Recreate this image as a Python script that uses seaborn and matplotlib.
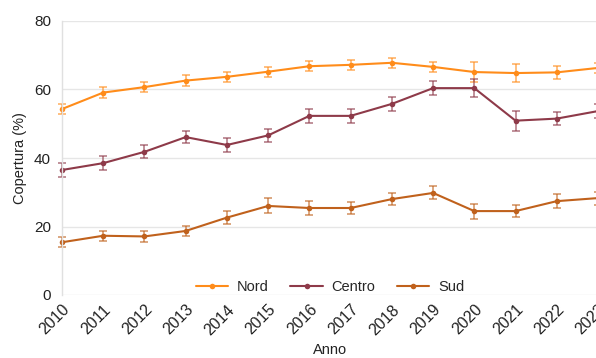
import matplotlib
matplotlib.use("Agg")
import matplotlib.pyplot as plt
import seaborn as sns
import pandas as pd

# Coverage by macro-area, 2010-2023
years = list(range(2010, 2024))
nord = [54.3, 59.1, 60.7, 62.6, 63.7, 65.2, 66.8, 67.2, 67.8, 66.6, 65.1, 64.8, 65.0, 66.3]
centro = [36.5, 38.5, 41.8, 46.1, 43.8, 46.6, 52.3, 52.3, 55.8, 60.4, 60.4, 50.9, 51.5, 53.7]
sud = [15.4, 17.3, 17.1, 18.7, 22.6, 26.0, 25.4, 25.4, 28.0, 29.8, 24.5, 24.5, 27.4, 28.3]

# Half-width of the uncertainty interval for each point
nord_err = [1.5, 1.5, 1.5, 1.5, 1.5, 1.5, 1.5, 1.5, 1.5, 1.5, 2.8, 2.5, 1.9, 1.5]
centro_err = [2.0, 2.0, 1.9, 1.85, 1.95, 1.85, 2.0, 2.0, 2.0, 2.1, 2.7, 2.9, 1.8, 2.0]
sud_err = [1.5, 1.5, 1.5, 1.5, 1.9, 2.2, 1.95, 1.8, 1.7, 1.9, 2.2, 1.8, 2.1, 1.9]

areas = ["Nord", "Centro", "Sud"]
colors = {"Nord": "#ff8c1a", "Centro": "#8e3a49", "Sud": "#c0611c"}

df = pd.DataFrame({
    "Anno": years * 3,
    "Copertura": nord + centro + sud,
    "err": nord_err + centro_err + sud_err,
    "Area": sum([[a] * len(years) for a in areas], []),
})

sns.set_theme(style="whitegrid")
plt.rcParams["font.family"] = ["Liberation Sans", "DejaVu Sans"]

fig = plt.figure(figsize=(5.96, 3.58), dpi=100)
ax = fig.add_axes([62 / 596, 1 - 295 / 358, 536 / 596, (295 - 21) / 358])

sns.lineplot(data=df, x="Anno", y="Copertura", hue="Area", hue_order=areas,
             palette=colors, marker="o", markersize=4, markeredgewidth=0,
             linewidth=1.5, ax=ax, clip_on=False)

for a in areas:
    sub = df[df["Area"] == a]
    ax.errorbar(sub["Anno"], sub["Copertura"], yerr=sub["err"], fmt="none",
                ecolor=colors[a], elinewidth=1.3, capsize=3, capthick=1.3,
                alpha=0.6, clip_on=False)

ax.set_xlim(2010, 2023)
ax.set_ylim(0, 80)
ax.set_yticks([0, 20, 40, 60, 80])
ax.set_xticks(years)
ax.set_xticklabels([str(y) for y in years], rotation=45, ha="right",
                   rotation_mode="anchor")
ax.tick_params(axis="y", labelsize=11, colors="#222222", length=0, pad=8)
ax.tick_params(axis="x", labelsize=11.5, colors="#222222", length=0, pad=5)
ax.grid(axis="x", visible=False)
ax.grid(axis="y", color="#e6e6e6", linewidth=1)
for side in ["top", "right", "bottom"]:
    ax.spines[side].set_visible(False)
ax.spines["left"].set_color("#e0e0e0")
ax.spines["left"].set_linewidth(1)

ax.set_xlabel("Anno", fontsize=10.5, color="#222222", labelpad=4)
ax.set_ylabel("Copertura (%)", fontsize=10.5, color="#222222", labelpad=5)

ax.legend(loc="lower center", bbox_to_anchor=(0.5, -0.045), ncol=3,
          frameon=False, fontsize=10.5, handlelength=2.2, columnspacing=1.5,
          handletextpad=0.6)

fig.savefig("out.png", dpi=100)
